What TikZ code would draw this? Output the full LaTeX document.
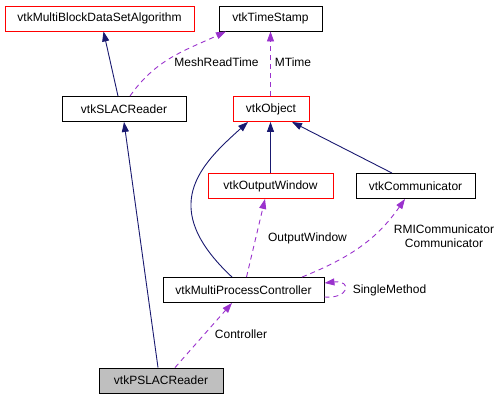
\documentclass[tikz,border=0pt]{standalone}
\usepackage{fontspec}
\setmainfont{Liberation Sans}
\usetikzlibrary{arrows.meta}

\definecolor{edgeblue}{HTML}{191970}
\definecolor{edgepurple}{HTML}{9A32CD}
\definecolor{boxgrey}{HTML}{BFBFBF}

\tikzset{
	cls/.style={draw=black, line width=0.9pt, minimum height=25pt, inner sep=0pt, font=\fontsize{12}{14}\selectfont},
	clsred/.style={cls, draw=red},
	inherit/.style={draw=edgeblue, line width=0.9pt, -{Triangle[length=10pt,width=7pt]}},
	uses/.style={draw=edgepurple, line width=0.9pt, dash pattern=on 5pt off 4pt, -{Triangle[length=10pt,width=7pt]}},
	lbl/.style={inner sep=0pt, align=center, font=\fontsize{12}{13.7}\selectfont}
}

\begin{document}
\begin{tikzpicture}[x=1pt, y=1pt]
		\useasboundingbox (0, 0) rectangle (504, -400);

		% classes
		\node [clsred, minimum width=189pt] (algo) at (99.5, -18.5) {vtkMultiBlockDataSetAlgorithm};
		\node [cls, minimum width=103pt] (stamp) at (270.5, -18.5) {vtkTimeStamp};
		\node [cls, minimum width=124pt] (slac) at (124, -109) {vtkSLACReader};
		\node [clsred, minimum width=76pt] (object) at (271, -109) {vtkObject};
		\node [clsred, minimum width=125pt] (window) at (270.5, -186) {vtkOutputWindow};
		\node [cls, minimum width=119pt] (comm) at (415.5, -186) {vtkCommunicator};
		\node [cls, minimum width=161pt] (mpc) at (243.5, -290) {vtkMultiProcessController};
		\node [cls, fill=boxgrey, minimum width=124pt] (pslac) at (161, -380.5) {vtkPSLACReader};

		% inheritance
		\draw [inherit] ([xshift=-6pt]slac.north) -- ([xshift=4pt]algo.south);
		\draw [inherit] ([xshift=-3pt]pslac.north) -- (slac.south);
		\draw [inherit] ([xshift=-11.5pt]mpc.north) .. controls (157, -207) and (200, -165) .. ([xshift=-23pt]object.south);
		\draw [inherit] (window.north) -- (window.north |- object.south);
		\draw [inherit] ([xshift=-23.5pt]comm.north) -- ([xshift=21pt]object.south);

		% members
		\draw [uses] ([xshift=6pt]slac.north) to [out=55, in=205] ([xshift=-44.5pt]stamp.south);
		\draw [uses] ([xshift=-0.5pt]object.north) -- (stamp.south);
		\draw [uses] ([xshift=14pt]pslac.north) -- ([xshift=-11.5pt]mpc.south);
		\draw [uses] ([xshift=3pt]mpc.north) -- ([xshift=-5.5pt]window.south);
		\draw [uses] ([xshift=58.5pt]mpc.north) to [out=22, in=235] ([xshift=-10.5pt]comm.south);
		\draw [uses] ([yshift=-7pt]mpc.east) .. controls +(25, -2) and +(28, 3) .. ([yshift=7pt]mpc.east);

		% labels
		\node [lbl, anchor=base] (lmesh) at (216.5, -66.5) {MeshReadTime};
		\node [lbl, anchor=base] (lmtime) at (293, -66.5) {MTime};
		\node [lbl, anchor=base] (lwindow) at (307.5, -241.5) {OutputWindow};
		\node [lbl] (lcomm) at (444, -236.5) {RMICommunicator\\Communicator};
		\node [lbl, anchor=base] (lsingle) at (389.5, -293) {SingleMethod};
		\node [lbl, anchor=base] (lctrl) at (241, -338) {Controller};
	\end{tikzpicture}
\end{document}
